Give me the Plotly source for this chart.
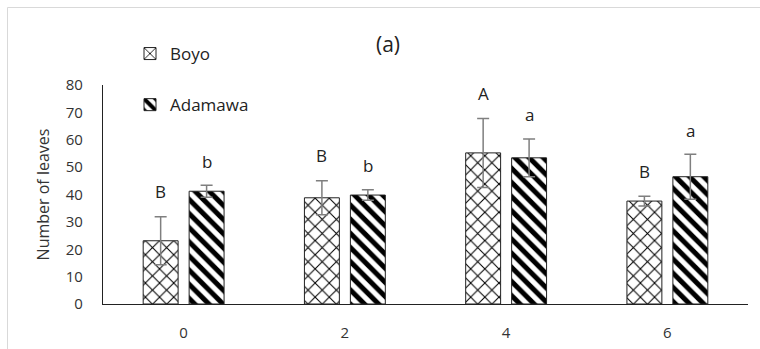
import plotly.graph_objects as go

categories = ["0", "2", "4", "6"]
boyo = [23.1, 38.8, 55.2, 37.6]
boyo_err = [8.8, 6.2, 12.6, 1.8]
adamawa = [41.2, 39.8, 53.4, 46.5]
adamawa_err = [2.2, 1.9, 6.9, 8.2]
boyo_letters = ["B", "B", "A", "B"]
adamawa_letters = ["b", "b", "a", "a"]
y_ticks = [0, 10, 20, 30, 40, 50, 60, 70, 80]

FONT = "Open Sans"
W, H = 760, 349
ML, MR, MT, MB = 103, 12, 85, 45
PW, PH = W - ML - MR, H - MT - MB

fig = go.Figure()
fig.add_trace(go.Bar(
    name="Boyo", x=categories, y=boyo, legendgroup="g1",
    marker=dict(color="white", line=dict(color="#222", width=1),
                pattern=dict(shape="x", fgcolor="black", bgcolor="white", size=10,
                             solidity=0.2, fgopacity=1)),
    error_y=dict(type="data", array=boyo_err, color="#7f7f7f", thickness=1.5, width=6),
))
fig.add_trace(go.Bar(
    name="Adamawa", x=categories, y=adamawa, legendgroup="g2",
    marker=dict(color="white", line=dict(color="#222", width=1),
                pattern=dict(shape="\\", fgcolor="black", bgcolor="white", size=10,
                             solidity=0.5, fgopacity=1)),
    error_y=dict(type="data", array=adamawa_err, color="#7f7f7f", thickness=1.5, width=6),
))

for i, c in enumerate(categories):
    fig.add_annotation(x=i, y=boyo[i] + boyo_err[i], text=boyo_letters[i], showarrow=False,
                       xshift=-23, yshift=25, yanchor="middle",
                       font=dict(family=FONT, size=17, color="#222"))
    fig.add_annotation(x=i, y=adamawa[i] + adamawa_err[i], text=adamawa_letters[i], showarrow=False,
                       xshift=23, yshift=24, yanchor="middle",
                       font=dict(family=FONT, size=17, color="#222"))

fig.add_annotation(xref="paper", yref="paper", x=(388 - ML) / PW, y=1 + (MT - 44) / PH,
                   text="(a)", showarrow=False, xanchor="center", yanchor="middle",
                   font=dict(family=FONT, size=21, color="#222"))

fig.add_shape(type="rect", xref="paper", yref="paper",
              x0=(7.5 - ML) / PW, x1=(770 - ML) / PW,
              y0=-(MB + 20) / PH, y1=1 + (MT - 7.5) / PH,
              line=dict(color="#d9d9d9", width=1), fillcolor="rgba(0,0,0,0)", layer="below")

fig.update_layout(
    width=W, height=H,
    margin=dict(l=ML, r=MR, t=MT, b=MB, autoexpand=False),
    paper_bgcolor="white", plot_bgcolor="white",
    barmode="group", bargap=0.43, bargroupgap=0.24,
    font=dict(family=FONT, size=15, color="#333"),
    showlegend=True,
    legend=dict(x=(130 - ML) / PW, y=1 + (MT - 36) / PH, xanchor="left", yanchor="top",
                orientation="v", tracegroupgap=26, bgcolor="rgba(0,0,0,0)",
                font=dict(family=FONT, size=17, color="#222"), itemwidth=30),
    xaxis=dict(type="category", range=[-0.5, 3.5], showline=True, linecolor="#222", linewidth=1.2,
               ticks="", showgrid=False, ticklabelstandoff=15, automargin=False,
               tickfont=dict(family=FONT, size=15, color="#333")),
    yaxis=dict(range=[0, 80], tickvals=y_ticks, showline=True, linecolor="#222", linewidth=1.2,
               ticks="", showgrid=False, zeroline=False, ticklabelstandoff=16, automargin=False,
               tickfont=dict(family=FONT, size=15, color="#333"),
               title=dict(text="Number of leaves", font=dict(family=FONT, size=16, color="#333"), standoff=12)),
)

fig.write_html("out.html")
